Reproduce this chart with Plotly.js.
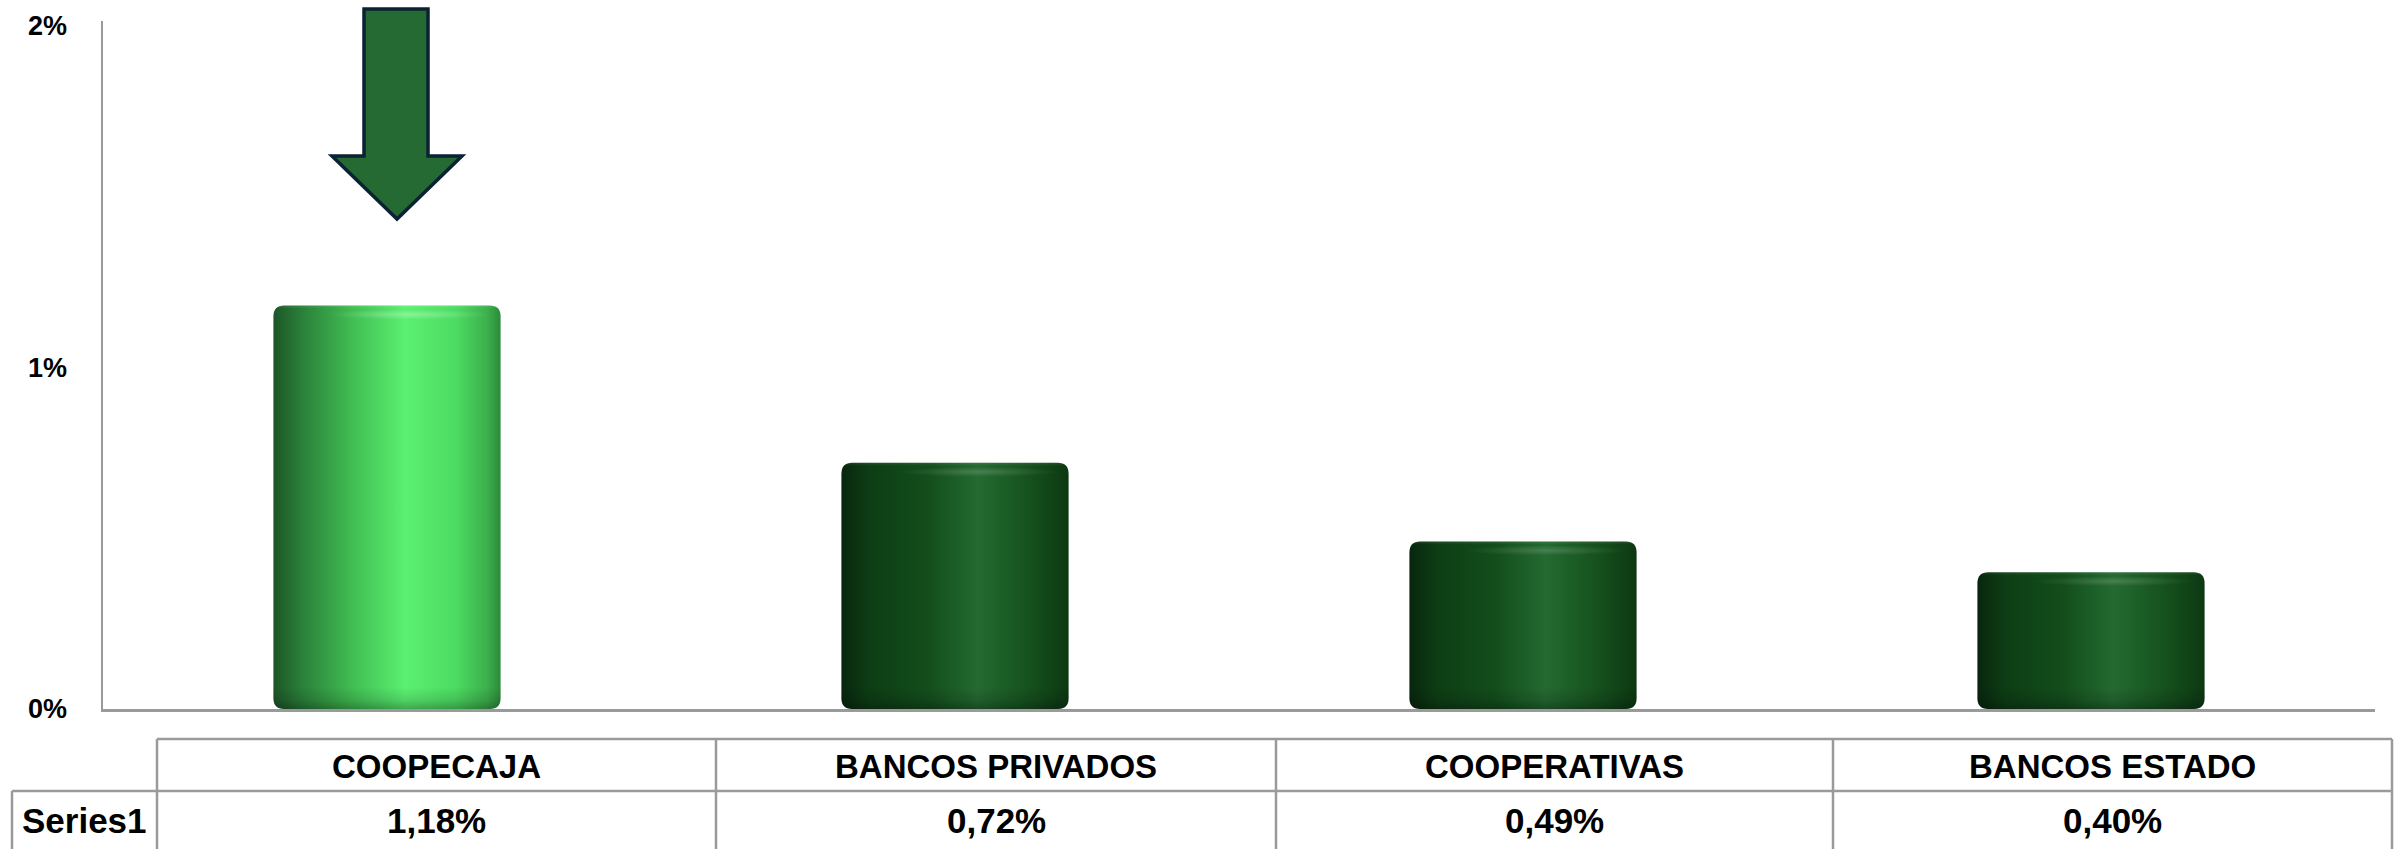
<!DOCTYPE html>
<html>
<head>
<meta charset="utf-8">
<script src="https://cdn.plot.ly/plotly-3.0.1.min.js"></script>
<style>
  html, body { margin: 0; padding: 0; background: #ffffff; }
  #chart { width: 2396px; height: 849px; }
</style>
</head>
<body>
<div id="chart"></div>
<script>
// ---- data ----
const categories = ['COOPECAJA', 'BANCOS PRIVADOS', 'COOPERATIVAS', 'BANCOS ESTADO'];
const values = [1.18, 0.72, 0.49, 0.40];
const seriesName = 'Series1';
const yTickVals = [0, 1, 2];
const yTickText = ['0%', '1%', '2%'];

// ---- style ----
const W = 2396, H = 849;
const M = { l: 103, r: 21, t: 21, b: 140 };
const FONT = '"Liberation Sans", Arial, sans-serif';
const GRID = '#9a9a9a';
const brightStops = [[0, '#1c5526'], [0.12, '#2a7e38'], [0.35, '#41be53'], [0.58, '#5bf072'], [0.8, '#4ddc63'], [0.94, '#3cb04c'], [1, '#2c8a3a']];
const darkStops = [[0, '#08260d'], [0.12, '#0d3d14'], [0.38, '#134e1c'], [0.6, '#246a31'], [0.82, '#16521e'], [1, '#0c3812']];
const barColors = ['#4fe066', '#16521e', '#16521e', '#16521e'];

const plotW = W - M.l - M.r, plotH = H - M.t - M.b;
const px2x = p => (p - M.l) / plotW;
const py2y = p => (H - M.b - p) / plotH;

function fmt(v) { return v.toFixed(2).replace('.', ',') + '%'; }

const trace = {
  type: 'bar',
  x: categories,
  y: values,
  name: seriesName,
  marker: { color: barColors, line: { width: 0 }, cornerradius: 11 },
  hoverinfo: 'none'
};

// table geometry (pixels)
const tblTop = 739, tblMid = 791, tblBot = 849 + 10;
const colEdges = [157, 716, 1276, 1833, 2392];
const rowLeft = 12;

const shapes = [];
function hline(x0, x1, y) {
  shapes.push({ type: 'line', xref: 'paper', yref: 'paper', x0: px2x(x0), x1: px2x(x1), y0: py2y(y), y1: py2y(y), line: { color: GRID, width: 2.5 } });
}
function vline(x, y0, y1) {
  shapes.push({ type: 'line', xref: 'paper', yref: 'paper', x0: px2x(x), x1: px2x(x), y0: py2y(y0), y1: py2y(y1), line: { color: GRID, width: 2.5 } });
}
hline(colEdges[0], colEdges[4], tblTop);
hline(rowLeft, colEdges[4], tblMid);
colEdges.forEach(x => vline(x, tblTop, tblBot));
vline(rowLeft, tblMid, tblBot);

// arrow above first bar
const ax = [[364, 9], [428, 9], [428, 156], [462, 156], [397, 219], [332, 156], [364, 156]];
shapes.push({
  type: 'path', xref: 'paper', yref: 'paper',
  path: 'M' + ax.map(p => px2x(p[0]).toFixed(5) + ',' + py2y(p[1]).toFixed(5)).join(' L') + ' Z',
  fillcolor: '#266a33', line: { color: '#0b2233', width: 3.5 }
});

const annotations = [];
categories.forEach((c, i) => {
  const cx = (colEdges[i] + colEdges[i + 1]) / 2;
  annotations.push({ xref: 'paper', yref: 'paper', x: px2x(cx), y: py2y((tblTop + tblMid) / 2 + 1), text: c, showarrow: false, xanchor: 'center', yanchor: 'middle', font: { family: FONT, size: 33, color: '#000', weight: 'bold' } });
  annotations.push({ xref: 'paper', yref: 'paper', x: px2x(cx), y: py2y(820), text: fmt(values[i]), showarrow: false, xanchor: 'center', yanchor: 'middle', font: { family: FONT, size: 35, color: '#000', weight: 'bold' } });
});
annotations.push({ xref: 'paper', yref: 'paper', x: px2x((rowLeft + colEdges[0]) / 2), y: py2y(820), text: seriesName, showarrow: false, xanchor: 'center', yanchor: 'middle', font: { family: FONT, size: 35, color: '#000', weight: 'bold' } });

const layout = {
  width: W, height: H,
  margin: M,
  paper_bgcolor: '#ffffff', plot_bgcolor: '#ffffff',
  showlegend: false,
  bargap: 0.6,
  font: { family: FONT, color: '#000' },
  xaxis: {
    type: 'category', showticklabels: false, ticks: '', showgrid: false, zeroline: false,
    showline: true, linecolor: GRID, linewidth: 2.5, range: [-0.5, 3.5], fixedrange: true
  },
  yaxis: {
    range: [0, 2.012], tickvals: yTickVals, ticktext: yTickText, showgrid: false, zeroline: false,
    showline: true, linecolor: GRID, linewidth: 2.5, ticks: '', ticklabelstandoff: 28,
    tickfont: { family: FONT, size: 27, color: '#000', weight: 'bold' }, fixedrange: true
  },
  shapes: shapes,
  annotations: annotations
};

function addStops(ns, g, stops) {
  stops.forEach(function (s) {
    const st = document.createElementNS(ns, 'stop');
    st.setAttribute('offset', Math.max(0, Math.min(1, s[0])));
    st.setAttribute('stop-color', s[1]);
    st.setAttribute('stop-opacity', s[2] === undefined ? 1 : s[2]);
    g.appendChild(st);
  });
}

const gd = document.getElementById('chart');
Plotly.newPlot(gd, [trace], layout, { staticPlot: true, displayModeBar: false }).then(function () {
  const ns = 'http://www.w3.org/2000/svg';
  const svg = gd.querySelector('svg.main-svg');
  const defs = svg.querySelector('defs');
  const paths = gd.querySelectorAll('.barlayer .point path');
  paths.forEach(function (p, i) {
    const bb = p.getBBox();
    const r = 11;
    const x0 = bb.x, x1 = bb.x + bb.width, y0 = bb.y, y1 = bb.y + bb.height;
    const w = bb.width, h = bb.height;
    const d = 'M' + (x0 + r) + ',' + y0 + 'H' + (x1 - r) + 'Q' + x1 + ',' + y0 + ' ' + x1 + ',' + (y0 + r) +
      'V' + (y1 - r) + 'Q' + x1 + ',' + y1 + ' ' + (x1 - r) + ',' + y1 + 'H' + (x0 + r) +
      'Q' + x0 + ',' + y1 + ' ' + x0 + ',' + (y1 - r) + 'V' + (y0 + r) + 'Q' + x0 + ',' + y0 + ' ' + (x0 + r) + ',' + y0 + 'Z';
    p.setAttribute('d', d);

    // horizontal cylinder shading
    const g = document.createElementNS(ns, 'linearGradient');
    g.setAttribute('id', 'hgrad' + i);
    g.setAttribute('x1', '0'); g.setAttribute('y1', '0'); g.setAttribute('x2', '1'); g.setAttribute('y2', '0');
    addStops(ns, g, i === 0 ? brightStops : darkStops);
    defs.appendChild(g);
    p.style.fill = 'url(#hgrad' + i + ')';
    p.style.fillOpacity = 1;

    // vertical rim shading
    const vg = document.createElementNS(ns, 'linearGradient');
    vg.setAttribute('id', 'vgrad' + i);
    vg.setAttribute('gradientUnits', 'userSpaceOnUse');
    vg.setAttribute('x1', 0); vg.setAttribute('x2', 0);
    vg.setAttribute('y1', y0); vg.setAttribute('y2', y1);
    addStops(ns, vg, [[0, '#ffffff', 0.10], [3 / h, '#ffffff', 0.0], [(h - 22) / h, '#000000', 0], [(h - 9) / h, '#000000', 0.12], [1, '#000000', 0.30]]);
    defs.appendChild(vg);
    const ov = document.createElementNS(ns, 'path');
    ov.setAttribute('d', d);
    ov.setAttribute('fill', 'url(#vgrad' + i + ')');
    p.parentNode.appendChild(ov);

    // top highlight ellipse
    const rg = document.createElementNS(ns, 'radialGradient');
    rg.setAttribute('id', 'rgrad' + i);
    addStops(ns, rg, [[0, '#ffffff', i === 0 ? 0.28 : 0.16], [1, '#ffffff', 0]]);
    defs.appendChild(rg);
    const el = document.createElementNS(ns, 'ellipse');
    el.setAttribute('cx', x0 + 0.6 * w);
    el.setAttribute('cy', y0 + 9);
    el.setAttribute('rx', 0.36 * w);
    el.setAttribute('ry', 5);
    el.setAttribute('fill', 'url(#rgrad' + i + ')');
    p.parentNode.appendChild(el);
  });
});
</script>
</body>
</html>
